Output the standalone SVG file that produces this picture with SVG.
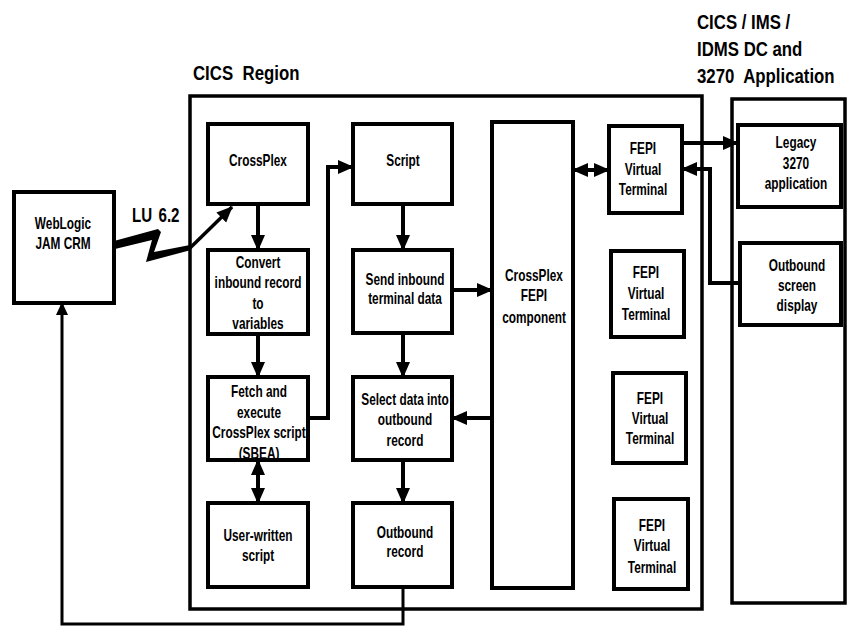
<svg xmlns="http://www.w3.org/2000/svg" width="848" height="628" viewBox="0 0 848 628">
<style>
.box{fill:#fff;stroke:#000;stroke-width:4}
.cont{fill:none;stroke:#000;stroke-width:3.5}
.ln{fill:none;stroke:#000;stroke-width:4}
.thin{fill:none;stroke:#000;stroke-width:3}
.t{font-family:"Liberation Sans",Arial,sans-serif;font-weight:bold;font-size:16px;text-anchor:middle;fill:#000}
.h{font-family:"Liberation Sans",Arial,sans-serif;font-weight:bold;font-size:21px;fill:#000}
</style>
<defs>
<marker id="ah" markerUnits="userSpaceOnUse" markerWidth="18" markerHeight="16" refX="15" refY="7" orient="auto-start-reverse">
<path d="M0,0 L16,7 L0,14 z" fill="#000"/>
</marker>
<marker id="ahs" markerUnits="userSpaceOnUse" markerWidth="14" markerHeight="14" refX="12" refY="6" orient="auto">
<path d="M0,0 L13,6 L0,12 z" fill="#000"/>
</marker>
</defs>
<rect width="848" height="628" fill="#fff"/>

<g id="headings">
<text class="h" transform="translate(193,80) scale(0.8,1)" word-spacing="6">CICS Region</text>
<text class="h" transform="translate(697,29) scale(0.8,1)">CICS / IMS /</text>
<text class="h" transform="translate(697,56) scale(0.8,1)">IDMS DC and</text>
<text class="h" transform="translate(697,83) scale(0.8,1)" word-spacing="6">3270 Application</text>
</g>

<g id="cics-region"><rect class="cont" x="190" y="96" width="512" height="513"/></g>
<g id="app-region"><rect class="cont" x="732" y="99" width="113" height="504"/></g>

<g id="weblogic">
<rect class="box" x="14" y="192" width="100" height="111"/>
<text class="t" transform="translate(63,229) scale(0.74,1)">WebLogic</text>
<text class="t" transform="translate(63,249) scale(0.74,1)">JAM CRM</text>
</g>

<g id="crossplex">
<rect class="box" x="208" y="124" width="100" height="80"/>
<text class="t" transform="translate(258,166) scale(0.74,1)">CrossPlex</text>
</g>

<g id="convert">
<rect class="box" x="208" y="250" width="100" height="84"/>
<text class="t" transform="translate(258,268) scale(0.74,1)">Convert</text>
<text class="t" transform="translate(258,288) scale(0.74,1)">inbound record</text>
<text class="t" transform="translate(258,309) scale(0.74,1)">to</text>
<text class="t" transform="translate(258,329) scale(0.74,1)">variables</text>
</g>

<g id="fetch">
<rect class="box" x="208" y="377" width="100" height="83"/>
<text class="t" transform="translate(259,397) scale(0.74,1)">Fetch and</text>
<text class="t" transform="translate(259,418) scale(0.74,1)">execute</text>
<text class="t" transform="translate(259,438) scale(0.74,1)">CrossPlex script</text>
<text class="t" transform="translate(259,459) scale(0.74,1)">(SBEA)</text>
</g>

<g id="user-script">
<rect class="box" x="208" y="503" width="100" height="84"/>
<text class="t" transform="translate(258,541) scale(0.74,1)">User-written</text>
<text class="t" transform="translate(258,561) scale(0.74,1)">script</text>
</g>

<g id="script">
<rect class="box" x="353" y="124" width="99" height="80"/>
<text class="t" transform="translate(403,166) scale(0.74,1)">Script</text>
</g>

<g id="send">
<rect class="box" x="353" y="250" width="99" height="83"/>
<text class="t" transform="translate(405,285) scale(0.74,1)">Send inbound</text>
<text class="t" transform="translate(405,304) scale(0.74,1)">terminal data</text>
</g>

<g id="select">
<rect class="box" x="353" y="377" width="99" height="83"/>
<text class="t" transform="translate(405,405) scale(0.74,1)">Select data into</text>
<text class="t" transform="translate(405,425) scale(0.74,1)">outbound</text>
<text class="t" transform="translate(405,446) scale(0.74,1)">record</text>
</g>

<g id="outbound-record">
<rect class="box" x="353" y="503" width="99" height="84"/>
<text class="t" transform="translate(405,538) scale(0.74,1)">Outbound</text>
<text class="t" transform="translate(405,557) scale(0.74,1)">record</text>
</g>

<g id="fepi-component">
<rect class="box" x="492" y="122" width="81" height="466"/>
<text class="t" transform="translate(534,281) scale(0.74,1)">CrossPlex</text>
<text class="t" transform="translate(534,301) scale(0.74,1)">FEPI</text>
<text class="t" transform="translate(534,323) scale(0.74,1)">component</text>
</g>

<g id="vt1">
<rect class="box" x="609" y="126" width="73" height="87"/>
<text class="t" transform="translate(643,154) scale(0.74,1)">FEPI</text>
<text class="t" transform="translate(643,175) scale(0.74,1)">Virtual</text>
<text class="t" transform="translate(643,195) scale(0.74,1)">Terminal</text>
</g>

<g id="vt2">
<rect class="box" x="611" y="251" width="73" height="86"/>
<text class="t" transform="translate(646,278) scale(0.74,1)">FEPI</text>
<text class="t" transform="translate(646,299) scale(0.74,1)">Virtual</text>
<text class="t" transform="translate(646,320) scale(0.74,1)">Terminal</text>
</g>

<g id="vt3">
<rect class="box" x="613" y="373" width="73" height="90"/>
<text class="t" transform="translate(650,404) scale(0.74,1)">FEPI</text>
<text class="t" transform="translate(650,424) scale(0.74,1)">Virtual</text>
<text class="t" transform="translate(650,444) scale(0.74,1)">Terminal</text>
</g>

<g id="vt4">
<rect class="box" x="614" y="499" width="74" height="90"/>
<text class="t" transform="translate(652,531) scale(0.74,1)">FEPI</text>
<text class="t" transform="translate(652,551) scale(0.74,1)">Virtual</text>
<text class="t" transform="translate(652,573) scale(0.74,1)">Terminal</text>
</g>

<g id="legacy">
<rect class="box" x="738" y="125" width="103" height="82"/>
<text class="t" transform="translate(796,148) scale(0.74,1)">Legacy</text>
<text class="t" transform="translate(796,169) scale(0.74,1)">3270</text>
<text class="t" transform="translate(796,189) scale(0.74,1)">application</text>
</g>

<g id="outbound-screen">
<rect class="box" x="740" y="243" width="101" height="82"/>
<text class="t" transform="translate(797,271) scale(0.74,1)">Outbound</text>
<text class="t" transform="translate(797,291) scale(0.74,1)">screen</text>
<text class="t" transform="translate(797,311) scale(0.74,1)">display</text>
</g>

<g id="connectors">
<line class="ln" x1="258" y1="204" x2="258" y2="250" marker-end="url(#ah)"/>
<line class="ln" x1="258" y1="334" x2="258" y2="377" marker-end="url(#ah)"/>
<line class="ln" x1="258" y1="460" x2="258" y2="503" marker-start="url(#ah)" marker-end="url(#ah)"/>
<path class="ln" d="M308,418 H328 V167 H353" marker-end="url(#ah)"/>
<line class="ln" x1="403" y1="204" x2="403" y2="250" marker-end="url(#ah)"/>
<line class="ln" x1="403" y1="333" x2="403" y2="377" marker-end="url(#ah)"/>
<line class="ln" x1="403" y1="460" x2="403" y2="503" marker-end="url(#ah)"/>
<line class="ln" x1="452" y1="290" x2="492" y2="290" marker-end="url(#ah)"/>
<line class="ln" x1="492" y1="418" x2="452" y2="418" marker-end="url(#ah)"/>
<line class="ln" x1="573" y1="170" x2="609" y2="170" marker-start="url(#ah)" marker-end="url(#ah)"/>
<line class="ln" x1="682" y1="143" x2="738" y2="143" marker-end="url(#ah)"/>
<path class="ln" d="M740,283 H710 V169 H682" marker-end="url(#ah)"/>
<path class="thin" d="M403,587 V624 H62 V303" marker-end="url(#ahs)"/>
<polygon fill="#000" points="114,241 158,229 161,232 154,252 190,245 191,250 146,262 152,240 115,249"/>
<line x1="190" y1="248" x2="232" y2="207" stroke="#000" stroke-width="3.5" marker-end="url(#ah)"/>
<text class="h" transform="translate(132,222) scale(0.72,1)" font-size="22" word-spacing="3">LU 6.2</text>
</g>
</svg>
